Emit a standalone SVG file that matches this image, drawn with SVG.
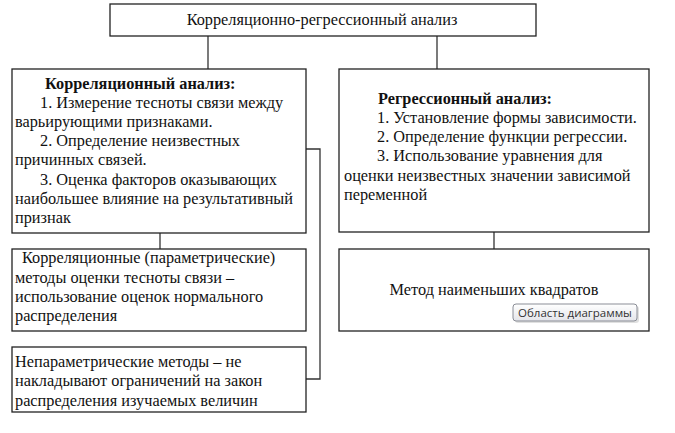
<svg xmlns="http://www.w3.org/2000/svg" width="675" height="433" viewBox="0 0 675 433">
<style>
.box{fill:#fff;stroke:#222;stroke-width:1.3}
.con{fill:none;stroke:#333;stroke-width:1.3}
.t{font-family:'Liberation Serif','Times New Roman',serif;font-size:16.3px;fill:#111}
.b{font-weight:bold}
.tip{font-family:'Open Sans','Noto Sans','DejaVu Sans',sans-serif;font-size:11.5px;fill:#333}
</style>
<defs>
<linearGradient id="tg" x1="0" y1="0" x2="0" y2="1">
<stop offset="0" stop-color="#ffffff"/>
<stop offset="1" stop-color="#e4e5ea"/>
</linearGradient>
</defs>
<rect width="675" height="433" fill="#fff"/>
<g id="connectors">
<path class="con" d="M208 36V69"/>
<path class="con" d="M437 36V69"/>
<path class="con" d="M160 233V249"/>
<path class="con" d="M494 232V249"/>
<path class="con" d="M306 149H320V379H306"/>
</g>
<g id="top">
<rect class="box" x="110" y="4" width="426" height="32"/>
<text class="t" x="322" y="25" text-anchor="middle">Корреляционно-регрессионный анализ</text>
</g>
<g id="corr">
<rect class="box" x="12" y="69" width="294" height="164"/>
<text class="t"><tspan class="b" x="45" y="89">Корреляционный анализ:</tspan><tspan x="40" y="108">1. Измерение тесноты связи между</tspan><tspan x="15" y="127">варьирующими признаками.</tspan><tspan x="40" y="146">2. Определение неизвестных</tspan><tspan x="15" y="165">причинных связей.</tspan><tspan x="40" y="185">3. Оценка факторов оказывающих</tspan><tspan x="15" y="204">наибольшее влияние на результативный</tspan><tspan x="15" y="223">признак</tspan></text>
</g>
<g id="regr">
<rect class="box" x="339" y="69" width="310" height="163"/>
<text class="t"><tspan class="b" x="378" y="104">Регрессионный анализ:</tspan><tspan x="377" y="123">1. Установление формы зависимости.</tspan><tspan x="377" y="142">2. Определение функции регрессии.</tspan><tspan x="377" y="161">3. Использование уравнения для</tspan><tspan x="344" y="181">оценки неизвестных значении зависимой</tspan><tspan x="344" y="200">переменной</tspan></text>
</g>
<g id="param">
<rect class="box" x="12" y="249" width="294" height="82"/>
<text class="t"><tspan x="22" y="263">Корреляционные (параметрические)</tspan><tspan x="15" y="283">методы оценки тесноты связи –</tspan><tspan x="15" y="302">использование оценок нормального</tspan><tspan x="15" y="321">распределения</tspan></text>
</g>
<g id="nonparam">
<rect class="box" x="12" y="347" width="294" height="65"/>
<text class="t"><tspan x="15" y="367">Непараметрические методы – не</tspan><tspan x="15" y="386">накладывают ограничений на закон</tspan><tspan x="15" y="406">распределения изучаемых величин</tspan></text>
</g>
<g id="mnk">
<rect class="box" x="339" y="249" width="310" height="82"/>
<text class="t" x="494" y="295" text-anchor="middle">Метод наименьших квадратов</text>
</g>
<g id="tooltip">
<rect x="515" y="306" width="124" height="17" rx="3" fill="#000" opacity="0.12"/>
<rect x="513" y="304" width="124" height="17" rx="3" fill="url(#tg)" stroke="#8a8d96" stroke-width="1"/>
<text class="tip" x="575" y="316.5" text-anchor="middle">Область диаграммы</text>
</g>
</svg>
